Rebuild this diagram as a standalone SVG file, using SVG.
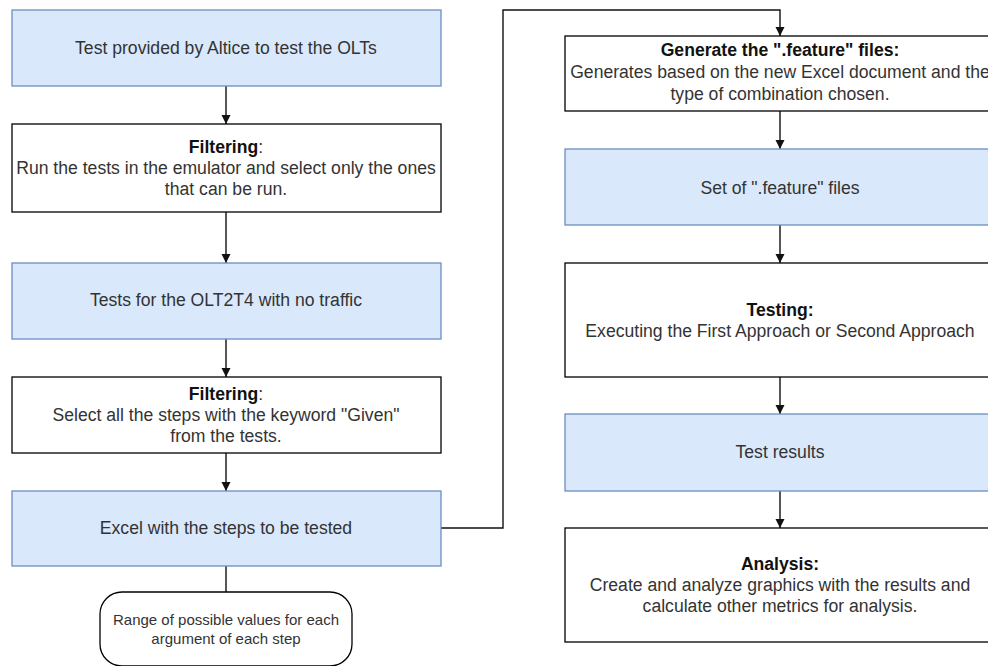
<svg xmlns="http://www.w3.org/2000/svg" width="988" height="666" viewBox="0 0 988 666">
  <style>
    .blue { fill: #dae8fc; stroke: #6c8ebf; stroke-width: 1.3; }
    .plain { fill: #ffffff; stroke: #000000; stroke-width: 1.3; }
    .t { font-family: "Liberation Sans", Arial, sans-serif; font-size: 17.6px; fill: #333333; text-anchor: middle; }
    .s { font-family: "Liberation Sans", Arial, sans-serif; font-size: 15px; fill: #333333; text-anchor: middle; }
    .b { font-weight: bold; fill: #111111; }
    .edge { fill: none; stroke: #111111; stroke-width: 1.4; }
  </style>
  <defs>
    <marker id="arrow" viewBox="0 0 10 10" refX="10" refY="5" markerWidth="6.5" markerHeight="6.5" markerUnits="strokeWidth" orient="auto">
      <path d="M0,0 L10,5 L0,10 z" fill="#111111"/>
    </marker>
  </defs>
  <rect width="988" height="666" fill="#ffffff"/>

  <!-- connectors -->
  <g id="connectors">
    <path class="edge" d="M226,86 V124" marker-end="url(#arrow)"/>
    <path class="edge" d="M226,212 V263" marker-end="url(#arrow)"/>
    <path class="edge" d="M226,339 V377" marker-end="url(#arrow)"/>
    <path class="edge" d="M226,453 V491" marker-end="url(#arrow)"/>
    <path class="edge" d="M226,566 V592"/>
    <path class="edge" d="M441,528 H503 V10 H780 V36" marker-end="url(#arrow)"/>
    <path class="edge" d="M780,111 V149" marker-end="url(#arrow)"/>
    <path class="edge" d="M780,225 V263" marker-end="url(#arrow)"/>
    <path class="edge" d="M780,377 V414" marker-end="url(#arrow)"/>
    <path class="edge" d="M780,491 V528" marker-end="url(#arrow)"/>
  </g>

  <!-- left column -->
  <g id="n-provided">
    <rect class="blue" x="12" y="10" width="429" height="76"/>
    <text class="t" x="226" y="54">Test provided by Altice to test the OLTs</text>
  </g>
  <g id="n-filter1">
    <rect class="plain" x="12" y="124" width="429" height="88"/>
    <text class="t" x="226" y="153"><tspan class="b">Filtering</tspan>:</text>
    <text class="t" x="226" y="174">Run the tests in the emulator and select only the ones</text>
    <text class="t" x="226" y="195">that can be run.</text>
  </g>
  <g id="n-olt2t4">
    <rect class="blue" x="12" y="263" width="429" height="76"/>
    <text class="t" x="226" y="306">Tests for the OLT2T4 with no traffic</text>
  </g>
  <g id="n-filter2">
    <rect class="plain" x="12" y="377" width="429" height="76"/>
    <text class="t" x="226" y="400"><tspan class="b">Filtering</tspan>:</text>
    <text class="t" x="226" y="421">Select all the steps with the keyword "Given"</text>
    <text class="t" x="226" y="442">from the tests.</text>
  </g>
  <g id="n-excel">
    <rect class="blue" x="12" y="491" width="429" height="75"/>
    <text class="t" x="226" y="534">Excel with the steps to be tested</text>
  </g>
  <g id="n-range">
    <rect class="plain" x="100" y="592" width="252" height="74" rx="22" ry="22"/>
    <text class="s" x="226" y="625">Range of possible values for each</text>
    <text class="s" x="226" y="644">argument of each step</text>
  </g>

  <!-- right column -->
  <g id="n-generate">
    <rect class="plain" x="565" y="36" width="430" height="75"/>
    <text class="t b" x="780" y="56">Generate the ".feature" files:</text>
    <text class="t" x="780" y="78">Generates based on the new Excel document and the</text>
    <text class="t" x="780" y="100">type of combination chosen.</text>
  </g>
  <g id="n-features">
    <rect class="blue" x="565" y="149" width="430" height="76"/>
    <text class="t" x="780" y="194">Set of ".feature" files</text>
  </g>
  <g id="n-testing">
    <rect class="plain" x="565" y="263" width="430" height="114"/>
    <text class="t b" x="780" y="316">Testing:</text>
    <text class="t" x="780" y="337">Executing the First Approach or Second Approach</text>
  </g>
  <g id="n-results">
    <rect class="blue" x="565" y="414" width="430" height="77"/>
    <text class="t" x="780" y="458">Test results</text>
  </g>
  <g id="n-analysis">
    <rect class="plain" x="565" y="528" width="430" height="114"/>
    <text class="t b" x="780" y="570">Analysis:</text>
    <text class="t" x="780" y="591">Create and analyze graphics with the results and</text>
    <text class="t" x="780" y="612">calculate other metrics for analysis.</text>
  </g>
</svg>
